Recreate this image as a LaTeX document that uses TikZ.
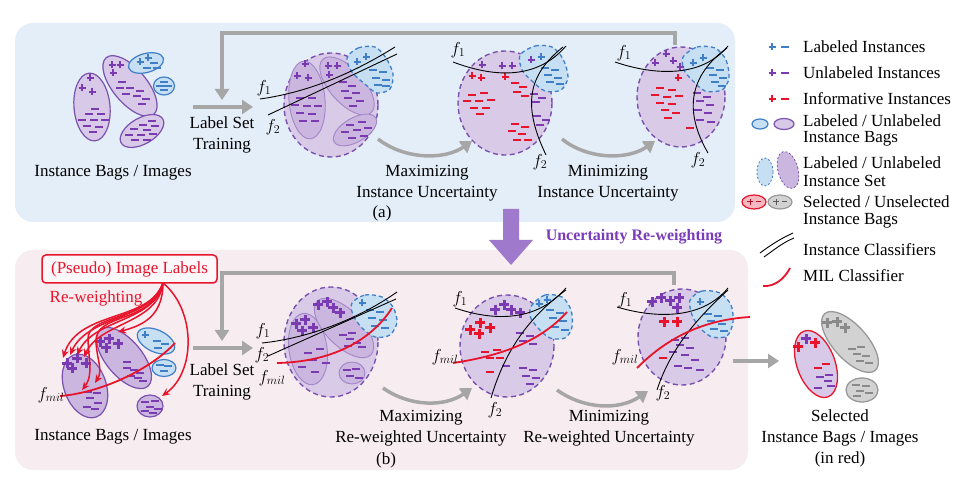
\documentclass[tikz,border=0pt]{standalone}
\usepackage{fontspec}
\setmainfont{Liberation Serif}
\usetikzlibrary{arrows.meta}
\definecolor{pur}{HTML}{7A3AB2}
\definecolor{purline}{HTML}{7A52AE}
\definecolor{purfill}{HTML}{D8C9E9}
\definecolor{purfillD}{HTML}{CBB6DF}
\definecolor{setfill}{HTML}{D9CAE8}
\definecolor{blu}{HTML}{3F7FC8}
\definecolor{blufill}{HTML}{C6DFF3}
\definecolor{myred}{HTML}{E8142C}
\definecolor{topbg}{HTML}{E4EEF8}
\definecolor{botbg}{HTML}{F7EDF1}
\definecolor{arrgray}{HTML}{A6A6A6}
\definecolor{bigarr}{HTML}{9F7ACC}
\definecolor{txtpur}{HTML}{7A3CB8}
\definecolor{gmk}{HTML}{8A8A8A}
\tikzset{
  txt/.style={align=center, inner sep=0pt, font=\fontsize{17}{21}\selectfont},
  lgd/.style={anchor=west, inner sep=0pt, font=\fontsize{17}{20}\selectfont},
  flab/.style={inner sep=0pt, font=\fontsize{17}{20}\selectfont},
  bagP/.style={draw=purline, fill=purfill, line width=1.2pt},
  bagPd/.style={draw=purline, fill=purfillD, line width=1.2pt},
  bagB/.style={draw=blu, fill=blufill, line width=1.2pt},
  ibag/.style={draw=purline!70, fill=purfillD, line width=0.9pt},
  setP/.style={draw=purline, fill=setfill, line width=1.4pt, dash pattern=on 5pt off 3.5pt},
  setB/.style={draw=blu, fill=blufill, line width=1.3pt, dash pattern=on 4pt off 3pt},
  selR/.style={draw=myred, fill=purfill, line width=1.3pt},
  selG/.style={draw=gray!80, fill=gray!35, line width=1.3pt},
  mP/.style={draw=pur, line width=1.6pt},
  mB/.style={draw=blu, line width=1.6pt},
  mR/.style={draw=myred, line width=1.6pt},
  mG/.style={draw=gmk, line width=1.6pt},
  mPb/.style={draw=pur, line width=3pt},
  mRb/.style={draw=myred, line width=3pt},
  mGb/.style={draw=gmk, line width=3pt},
  clf/.style={draw=black, line width=0.9pt},
  milc/.style={draw=myred, line width=1.8pt},
  garr/.style={draw=arrgray, line width=3.5pt, -{Triangle[length=11pt,width=14pt]}},
  rarr/.style={draw=myred, line width=1.5pt, -{Stealth[length=8pt,width=7pt]}},
}
\newcommand\ovl[5]{\draw[#1,rotate around={#5:(#2)}] (#2) ellipse [x radius=#3, y radius=#4];}
\newcommand\pls[2]{\foreach \p in {#2}{\draw[#1] (\p) ++(-3.5,0) -- ++(7,0) (\p) ++(0,-3.5) -- ++(0,7);}}
\newcommand\bpls[2]{\foreach \p in {#2}{\draw[#1] (\p) ++(-5,0) -- ++(10,0) (\p) ++(0,-5) -- ++(0,10);}}
\newcommand\mns[2]{\foreach \p in {#2}{\draw[#1] (\p) ++(-4,0) -- ++(8,0);}}
\begin{document}
\begin{tikzpicture}[x=1pt,y=-1pt]
\useasboundingbox (0,0) rectangle (964,478);
\fill[white] (0,0) rectangle (964,478);
% panels
\fill[topbg, rounded corners=18pt] (15,23) rectangle (735,222);
\fill[botbg, rounded corners=18pt] (15,250) rectangle (748,470);
% big arrow
\fill[bigarr] (503,209) -- (519,209) -- (519,240) -- (533,240) -- (511,265) -- (489,240) -- (503,240) -- cycle;
\node[inner sep=0pt, font=\fontsize{16}{18}\selectfont\bfseries, text=txtpur] (urw) at (634,237) {Uncertainty Re-weighting};

% ================= TOP PANEL =================
% instance bags
\ovl{bagP}{92,107}{18}{34}{5}
\ovl{bagP}{130,86}{17}{37}{40}
\ovl{bagB}{146,63}{18}{9.5}{15}
\ovl{bagB}{164,86}{10.5}{9}{0}
\ovl{bagP}{142,131}{24}{13}{30}
\pls{mP}{{90,78},{82,88},{92,92},{112,65},{120,65},{113,73}}
\mns{mP}{{95,109},{89,114},{101,114},{82,120},{94,120},{105,120},{87,126},{99,127},{93,132},
  {122,82},{120,88},{130,88},{140,91},{126,94},{137,96},{146,99},{142,104},
  {152,121},{143,125},{155,126},{134,129},{147,130},{129,135},{141,135},{153,134},{135,140},{147,140}}
\pls{mB}{{140,62},{148,58}}
\mns{mB}{{154,63},{147,68},{157,68},{164,82},{160,86},{168,86},{164,90}}
\node[txt] (tbags) at (113,173) {Instance Bags / Images};
\node[txt] (tlst) at (222,135) {Label Set\\Training};
\coordinate (ta0) at (193,107); \coordinate (ta1) at (253,107);
\draw[garr] (ta0) -- (ta1);
\coordinate (tl0) at (675,45); \coordinate (tl1) at (222,100);
\draw[garr] (tl0) -- (675,33) -- (222,33) -- (tl1);

% cluster 1
\draw[setP] (331,105) ellipse [x radius=47, y radius=52];
\ovl{ibag}{307,100}{18}{39}{5}
\ovl{ibag}{347,86}{17}{36}{42}
\ovl{ibag}{355,130}{24}{12}{30}
\draw[setB] plot[smooth cycle] coordinates {(347,58) (358,48) (375,47) (386,58) (393,74) (390,89) (377,93) (366,85) (352,72)};
\pls{mP}{{305,64},{297,76},{308,78},{328,66},{337,66},{329,75}}
\pls{mB}{{357,62},{366,57}}
\mns{mP}{{300,98},{312,98},{295,105},{307,106},{318,106},{300,113},{312,114},{303,121},{315,121},
  {343,82},{352,86},{345,91},{356,93},{348,98},{360,101},{353,106},
  {350,125},{362,122},{345,132},{357,130},{368,128},{352,138},{364,136}}
\mns{mB}{{373,70},{383,72},{376,78},{386,80},{378,85},{386,86}}
\draw[clf] (260,99) .. controls (310,92) and (355,72) .. (395,47);
\draw[clf] (268,115) -- (397,54);
\node[flab] (tf11) at (264,88) {$f_1$};
\node[flab] (tf12) at (273,127) {$f_2$};

\draw[garr] (378,139) .. controls (405,160) and (445,160) .. (472,141);
\node[txt] (tmax) at (427,183) {Maximizing\\Instance Uncertainty};
\node[txt] (ta) at (382,213) {(a)};

% cluster 2
\draw[setP] (505,103) ellipse [x radius=47, y radius=52];
\draw[setB] plot[smooth cycle] coordinates {(520,55) (535,46) (552,47) (563,59) (568,77) (561,90) (545,91) (532,81) (522,70)};
\pls{mP}{{482,65},{502,66},{512,66},{531,60}}
\pls{mB}{{541,57}}
\pls{mR}{{472,76},{481,78},{505,77}}
\mns{mR}{{472,95},{484,93},{467,101},{479,101},{491,100},{474,108},{486,108},{480,114},
  {515,83},{523,87},{517,92},{525,96},{515,124},{525,127},{512,131},{522,134},{517,140},{528,140}}
\mns{mP}{{534,94},{542,98},{536,102},{537,116},{546,120},{540,125}}
\mns{mB}{{545,68},{555,70},{548,75},{558,78},{550,82},{560,84}}
\draw[clf] (453,62) .. controls (490,76) and (535,82) .. (566,46);
\draw[clf] (563,47) .. controls (528,75) and (522,105) .. (546,155);
\node[flab] (tf21) at (458,50) {$f_1$};
\node[flab] (tf22) at (540,162) {$f_2$};

\draw[garr] (562,139) .. controls (588,160) and (628,160) .. (655,141);
\node[txt] (tmin) at (608,183) {Minimizing\\Instance Uncertainty};

% cluster 3
\draw[setP] (681,97) ellipse [x radius=44, y radius=50];
\draw[setB] plot[smooth cycle] coordinates {(683,57) (697,47) (715,48) (726,60) (729,78) (722,90) (705,91) (692,80) (684,70)};
\pls{mP}{{655,63},{666,54},{673,61},{680,67}}
\pls{mB}{{693,63},{703,58}}
\pls{mR}{{678,78}}
\mns{mR}{{660,88},{672,90},{655,95},{667,97},{679,96},{660,103},{672,104},{665,110},{676,113},{668,118},{690,128}}
\mns{mP}{{697,93},{707,97},{700,101},{710,105},{698,110},{708,113},{700,120},{711,122}}
\mns{mB}{{710,68},{720,70},{713,75},{723,78},{715,82},{722,86}}
\draw[clf] (615,62) .. controls (650,74) and (700,80) .. (728,46);
\draw[clf] (727,48) .. controls (690,75) and (683,110) .. (708,153);
\node[flab] (tf31) at (624,53) {$f_1$};
\node[flab] (tf32) at (698,160) {$f_2$};

% ================= BOTTOM PANEL =================
\node[draw=myred, line width=1.5pt, rounded corners=4pt, fill=white!60!botbg, text=myred, minimum width=175pt, minimum height=28pt, inner sep=0pt, font=\fontsize{17}{20}\selectfont] (pil) at (129.5,269) {(Pseudo) Image Labels};
\node[inner sep=0pt, text=myred, font=\fontsize{17}{20}\selectfont] (rw) at (96,298) {Re-weighting};

\ovl{bagPd}{85,386}{21}{33}{20}
\ovl{bagPd}{124,358}{18}{37}{40}
\ovl{bagB}{156,341}{20}{11}{-25}
\ovl{bagB}{164,368}{12}{8.5}{0}
\ovl{bagPd}{150,406}{13}{11}{0}
\bpls{mPb}{{67,363},{77,358},{86,363},{72,368},{100,342},{109,339},{118,344},{106,348}}
\mns{mP}{{88,392},{97,393},{90,398},{98,403},{87,407},{95,409},
  {127,368},{134,370},{140,373},{131,376},{138,378},{143,381},{127,362}}
\pls{mB}{{145,335}}
\mns{mB}{{157,341},{165,344},{158,348},{160,365},{168,366},{164,371}}
\mns{mP}{{145,402},{155,401},{150,407},{158,409},{145,411},{153,413}}
% red arrows
\coordinate (po) at (163,283);
\draw[rarr] (po) .. controls (150,322) and (78,310) .. (63,358);
\draw[rarr] (po) .. controls (152,320) and (88,315) .. (70,355);
\draw[rarr] (po) .. controls (155,322) and (95,318) .. (77,355);
\draw[rarr] (po) .. controls (158,324) and (100,322) .. (84,357);
\draw[rarr] (po) .. controls (163,318) and (140,326) .. (118,332);
\draw[rarr] (po) .. controls (150,325) and (95,312) .. (96,342) .. controls (97,360) and (103,370) .. (95,383);
\draw[rarr] (po) .. controls (148,322) and (86,314) .. (88,340) .. controls (89,362) and (93,376) .. (82,390);
\draw[rarr] (po) .. controls (196,310) and (196,372) .. (162,396);
\draw[milc] (60,396) .. controls (100,393) and (150,370) .. (175,343);
\node[flab] (lfm) at (51,395) {$f_{mil}$};
\node[txt] (bbags) at (113,437) {Instance Bags / Images};
\node[txt] (blst) at (222,382) {Label Set\\Training};
\coordinate (ba0) at (193,348); \coordinate (ba1) at (253,348);
\draw[garr] (ba0) -- (ba1);
\coordinate (bl0) at (674,285); \coordinate (bl1) at (222,341);
\draw[garr] (bl0) -- (674,273) -- (222,273) -- (bl1);

% cluster 1b
\draw[setP] (331,342) ellipse [x radius=47, y radius=55];
\ovl{ibag}{308,349}{19}{36}{8}
\ovl{ibag}{344,328}{18}{38}{45}
\ovl{ibag}{352,373}{13}{11}{0}
\draw[setB] plot[smooth cycle] coordinates {(352,303) (365,295) (382,297) (393,307) (397,322) (390,335) (375,337) (362,328) (353,315)};
\bpls{mPb}{{296,324},{305,320},{302,331},{313,328},{318,305},{327,302},{333,308},{340,313}}
\pls{mB}{{362,303}}
\mns{mB}{{370,310},{380,312},{372,318},{383,320},{375,326},{385,328}}
\mns{mP}{{308,353},{320,349},{313,360},{326,363},{302,367},{315,372},
  {343,335},{352,333},{350,339},{357,343},{362,347},{348,346},
  {347,370},{356,369},{350,376},{359,378}}
\draw[clf] (262,343) .. controls (310,338) and (360,318) .. (397,292);
\draw[clf] (268,356) -- (396,299);
\draw[milc] (277,363) .. controls (330,362) and (370,342) .. (392,308);
\node[flab] (bf11) at (263,331) {$f_1$};
\node[flab] (bf12) at (262,355) {$f_2$};
\node[flab] (bf1m) at (272,378) {$f_{mil}$};

\draw[garr] (383,388) .. controls (410,407) and (445,407) .. (472,388);
\node[txt] (bmax) at (421,428) {Maximizing\\Re-weighted Uncertainty};
\node[txt] (bb) at (386,460) {(b)};

% cluster 2b
\draw[setP] (507,346) ellipse [x radius=47, y radius=51];
\draw[setB] plot[smooth cycle] coordinates {(532,305) (545,295) (562,297) (571,310) (572,327) (565,338) (550,338) (538,328) (530,316)};
\bpls{mPb}{{495,310},{504,305},{511,310},{520,313}}
\bpls{mRb}{{470,330},{480,323},{479,334},{490,328}}
\pls{mB}{{539,304},{547,300}}
\mns{mB}{{550,310},{560,313},{553,318},{563,321},{555,327},{565,330}}
\mns{mR}{{485,352},{497,350},{490,358},{500,358},{490,372}}
\mns{mP}{{520,333},{530,336},{523,341},{533,344},{523,368},{533,370},{526,376},{536,378},{530,384},{506,366}}
\draw[clf] (455,308) .. controls (490,320) and (535,324) .. (566,288);
\draw[clf] (566,290) .. controls (530,316) and (505,350) .. (491,398);
\draw[milc] (453,363) .. controls (500,356) and (540,342) .. (567,312);
\node[flab] (bf21) at (460,299) {$f_1$};
\node[flab] (bf2m) at (445,357) {$f_{mil}$};
\node[flab] (bf22) at (495,410) {$f_2$};

\draw[garr] (557,390) .. controls (585,410) and (620,410) .. (648,391);
\node[txt] (bmin) at (609,428) {Minimizing\\Re-weighted Uncertainty};

% cluster 3b
\draw[setP] (682,337) ellipse [x radius=44, y radius=48];
\draw[setB] plot[smooth cycle] coordinates {(690,300) (702,291) (720,293) (731,305) (733,322) (727,336) (712,337) (700,328) (692,315)};
\bpls{mPb}{{652,302},{661,298},{670,301},{679,298},{677,308}}
\bpls{mRb}{{664,322},{677,322}}
\pls{mB}{{700,302}}
\mns{mB}{{708,314},{718,316},{711,321},{722,324},{714,329},{724,331}}
\mns{mR}{{663,358}}
\mns{mP}{{675,340},{685,338},{680,345},{690,348},{673,352},{685,355},{695,360},{688,368},{700,370},{678,366}}
\draw[clf] (617,307) .. controls (650,317) and (700,322) .. (728,288);
\draw[clf] (728,290) .. controls (695,320) and (670,350) .. (657,390);
\draw[milc] (637,368) .. controls (665,340) and (700,320) .. (750,317);
\node[flab] (bf31) at (625,300) {$f_1$};
\node[flab] (bf3m) at (625,357) {$f_{mil}$};
\node[flab] (bf32) at (663,393) {$f_2$};

% selected bags
\coordinate (sa0) at (733,361); \coordinate (sa1) at (779,361);
\draw[garr] (sa0) -- (sa1);
\ovl{selG}{850,342}{17}{38}{42}
\ovl{selG}{862,390}{16}{12}{0}
\ovl{selR}{816,364}{19}{35}{20}
\bpls{mGb}{{827,323},{837,322},{845,328}}
\mns{mG}{{852,349},{861,347},{857,354},{866,356},{860,361},{869,363},
  {856,385},{866,386},{860,391},{869,393},{857,396}}
\bpls{mPb}{{806,339}}
\bpls{mRb}{{798,347},{815,343}}
\mns{mR}{{818,368},{826,364}}
\mns{mP}{{820,377},{829,375},{828,381},{818,388},{831,386}}
\node[txt] (seltxt) at (840,438) {Selected\\Instance Bags / Images\\(in red)};

% ================= LEGEND =================
\pls{mB}{{772,47}} \mns{mB}{{785,47}}
\pls{mP}{{772,73}} \mns{mP}{{785,73}}
\pls{mR}{{772,99}} \mns{mR}{{785,99}}
\node[lgd] (l1) at (803,47) {Labeled Instances};
\node[lgd] (l2) at (803,73) {Unlabeled Instances};
\node[lgd] (l3) at (803,99) {Informative Instances};
\ovl{bagB}{760,124}{8}{5}{0}
\ovl{bagP}{784,124}{10}{5.5}{0}
\node[lgd] (l4a) at (803,121) {Labeled / Unlabeled};
\node[lgd] (l4b) at (803,139) {Instance Bags};
\draw[draw=blu, fill=blufill, line width=0.8pt, dash pattern=on 2pt off 2pt] (765,172) ellipse [x radius=8, y radius=14];
\draw[draw=purline, fill=purfillD, line width=0.8pt, dash pattern=on 2pt off 2pt, rotate around={15:(788,170)}] (788,170) ellipse [x radius=10, y radius=19];
\node[lgd] (l5a) at (803,163) {Labeled / Unlabeled};
\node[lgd] (l5b) at (803,181) {Instance Set};
\draw[draw=myred, fill=myred!30, line width=1.2pt] (754,202) ellipse [x radius=12, y radius=7];
\draw[draw=gray!80, fill=gray!35, line width=1.2pt] (780,202) ellipse [x radius=12, y radius=7];
\draw[myred!80!black, line width=1pt] (747,202) -- (753,202) (750,199) -- (750,205) (756,202) -- (761,202);
\draw[gray!70!black, line width=1pt] (773,202) -- (779,202) (776,199) -- (776,205) (782,202) -- (787,202);
\node[lgd] (l6a) at (803,202) {Selected / Unselected};
\node[lgd] (l6b) at (803,221) {Instance Bags};
\draw[clf] (760,253) .. controls (772,244) and (782,238) .. (793,233);
\draw[clf] (764,257) .. controls (775,249) and (784,242) .. (794,238);
\node[lgd] (l7) at (803,250) {Instance Classifiers};
\draw[milc] (763,286) .. controls (775,287) and (785,278) .. (790,268);
\node[lgd] (l8) at (803,276) {MIL Classifier};
\end{tikzpicture}
\end{document}
